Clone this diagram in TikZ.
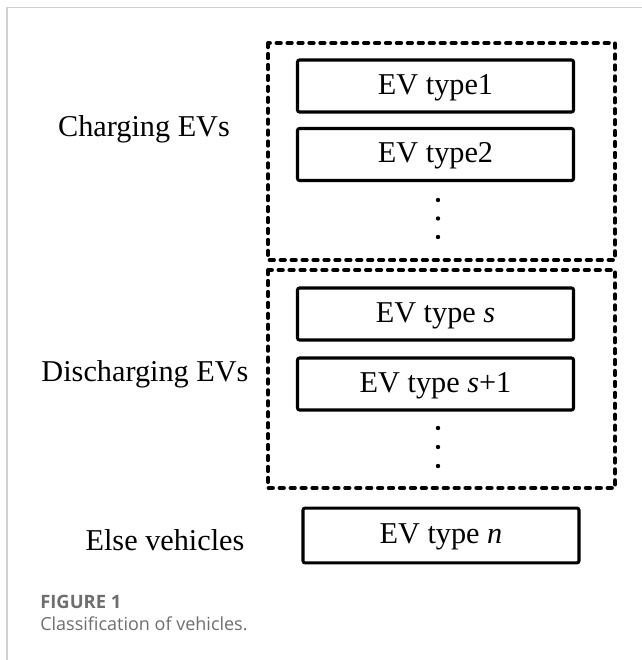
\documentclass[tikz,border=0pt]{standalone}
\usepackage{fontspec}
\setmainfont{Liberation Serif}
\newfontfamily\capfont{Open Sans}
\definecolor{capgray}{HTML}{6E6E6E}
\definecolor{framegray}{HTML}{D0D0D0}
\begin{document}
\begin{tikzpicture}[x=0.75pt,y=-0.75pt,
  evbox/.style={draw=black,line width=2.3pt,rounded corners=1.5pt,minimum width=207pt,minimum height=39pt,inner sep=0pt,text height=15.4pt,text depth=2.7pt,font=\fontsize{22.7}{26}\selectfont},
  grpbox/.style={draw=black,line width=3pt,dash pattern=on 3.2pt off 5pt,line cap=round},
  grplabel/.style={font=\fontsize{22.7}{26}\selectfont,inner sep=0pt},
  dotmark/.style={circle,fill=black,inner sep=0pt,minimum size=3.3pt}]
\useasboundingbox (0,0) rectangle (642,660);
\fill[white] (0,0) rectangle (642,660);
\draw[framegray,line width=0.9pt] (7,670) -- (7,7.5) -- (650,7.5);
% group boxes
\draw[grpbox] (268,43) rectangle (615,260);
\draw[grpbox] (268,270) rectangle (615,488);
% EV boxes
\node[evbox] (b1) at (435.5,86) {EV type1};
\node[evbox] (b2) at (435.5,154.5) {EV type2};
\node[evbox] (bs) at (435.5,314) {EV type \textit{s}};
\node[evbox] (bs1) at (435.5,384) {EV type \textit{s}+1};
\node[evbox,minimum height=41pt] (bn) at (441,535.5) {EV type \textit{n}};
% dots
\node[dotmark] (d1) at (438,200) {};
\node[dotmark] (d2) at (438,218.5) {};
\node[dotmark] (d3) at (438,237) {};
\node[dotmark] (d4) at (438,428) {};
\node[dotmark] (d5) at (438,447) {};
\node[dotmark] (d6) at (438,466) {};
% labels
\node[grplabel] (lc) at (144,129) {Charging EVs};
\node[grplabel] (ld) at (145,374) {Discharging EVs};
\node[grplabel] (le) at (165,540) {Else vehicles};
% caption
\node[anchor=west,inner sep=0pt,text=capgray,font=\capfont\bfseries\fontsize{13.8}{16}\selectfont] (fig) at (40,602) {FIGURE 1};
\node[anchor=west,inner sep=0pt,text=capgray,font=\capfont\fontsize{13.5}{16}\selectfont] (cap) at (40,624) {Classification of vehicles.};
\end{tikzpicture}
\end{document}
